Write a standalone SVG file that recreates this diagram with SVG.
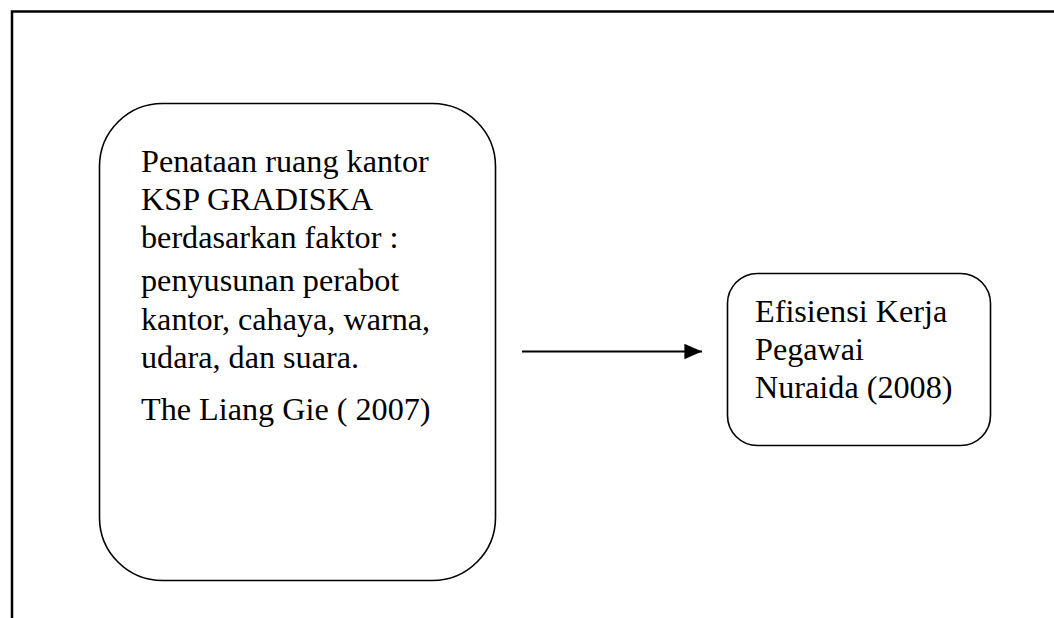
<svg xmlns="http://www.w3.org/2000/svg" width="1054" height="618" viewBox="0 0 1054 618">
<style>
.box{fill:#fff;stroke:#000;stroke-width:1.6}
.t{font-family:"Liberation Serif","Times New Roman",serif;font-size:32.2px;fill:#000}
</style>
<defs>
<marker id="ah" markerWidth="8" markerHeight="7" refX="8" refY="3.5" orient="auto" markerUnits="strokeWidth">
<path d="M0,0 L8,3.5 L0,7 Z" fill="#000"/>
</marker>
</defs>
<rect width="1054" height="618" fill="#fff"/>
<g id="frame">
<path d="M12,618 V11.5 H1054" fill="none" stroke="#000" stroke-width="2.5"/>
</g>
<g id="node-left">
<rect class="box" x="99.5" y="103.5" width="396" height="477" rx="63" ry="63"/>
<text class="t" x="141" y="172">Penataan ruang kantor</text>
<text class="t" x="141" y="210">KSP GRADISKA</text>
<text class="t" x="141" y="248">berdasarkan faktor :</text>
<text class="t" x="141" y="291">penyusunan perabot</text>
<text class="t" x="141" y="330">kantor, cahaya, warna,</text>
<text class="t" x="141" y="368">udara, dan suara.</text>
<text class="t" x="141" y="420">The Liang Gie ( 2007)</text>
</g>
<g id="node-right">
<rect class="box" x="727.5" y="273.5" width="263" height="172" rx="30" ry="30"/>
<text class="t" x="755" y="322">Efisiensi Kerja</text>
<text class="t" x="755" y="360">Pegawai</text>
<text class="t" x="755" y="398">Nuraida (2008)</text>
</g>
<g id="connectors">
<line x1="522" y1="351.5" x2="702" y2="351.5" stroke="#000" stroke-width="2.2" marker-end="url(#ah)"/>
</g>
</svg>
